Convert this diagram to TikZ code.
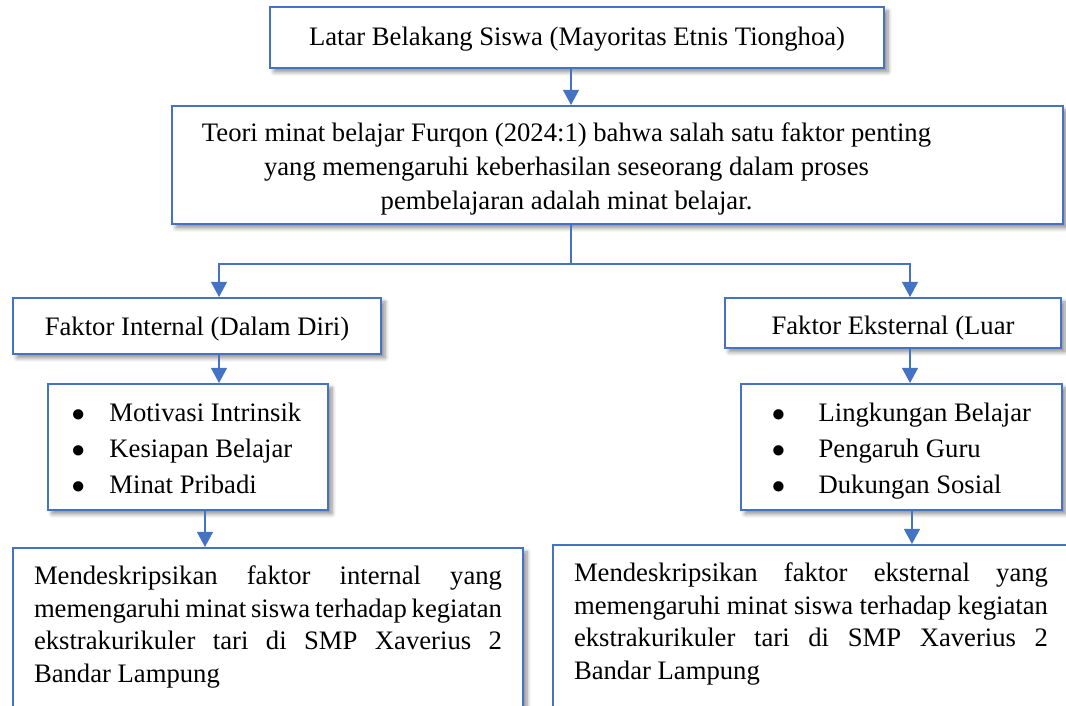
\documentclass[tikz,border=0pt]{standalone}
\usepackage{fontspec}
\setmainfont{Liberation Serif}
\usetikzlibrary{arrows.meta,shadows.blur}
\definecolor{wordblue}{HTML}{4472C4}

\tikzset{
	kotak/.style={draw=wordblue, line width=0.9pt, fill=white, inner sep=0pt,
		blur shadow={shadow xshift=1.8pt, shadow yshift=-1.8pt, shadow blur steps=6, shadow opacity=45},
		font=\fontsize{12}{15.3}\selectfont},
	panah/.style={draw=wordblue, line width=0.6pt, -{Triangle[width=7.2pt,length=6.8pt]}},
	garis/.style={draw=wordblue, line width=0.6pt},
	uraian/.style={kotak, anchor=north west, inner xsep=9.45pt, inner ysep=8pt, align=justify,
		font=\fontsize{12}{14.7}\selectfont}
}
\newcommand{\butir}{$\bullet$}
\newcommand{\turun}[2]{\raisebox{-#1}[\height][\depth]{#2}}

\begin{document}
\begin{tikzpicture}[x=0.45pt,y=0.45pt]
		\useasboundingbox (0,0) rectangle (1066,705);
		\clip (0,0) rectangle (1066,705);
		
		\node[kotak, minimum width=276.3pt, minimum height=27.45pt] (latar) at (577,667.5) {\turun{0.8pt}{Latar Belakang Siswa (Mayoritas Etnis Tionghoa)}};
		\node[kotak, minimum width=400.95pt, minimum height=53.1pt] (teori) at (617.5,540) {\turun{1.8pt}{\begin{tabular}{@{}c@{}}Teori minat belajar Furqon (2024:1) bahwa salah satu faktor penting\\ yang memengaruhi keberhasilan seseorang dalam proses\\ pembelajaran adalah minat belajar.\end{tabular}}\hspace*{45.9pt}};
		
		\node[kotak, minimum width=165.6pt, minimum height=25.2pt] (intern) at (197,379) {\turun{1.3pt}{Faktor Internal (Dalam Diri)}};
		\node[kotak, minimum width=151.2pt, minimum height=22.5pt] (ekstern) at (893,382) {\turun{2.2pt}{Faktor Eksternal (Luar}};
		
		\node[kotak, minimum width=126pt, minimum height=56.7pt, font=\fontsize{12}{16.2}\selectfont] (butirIn) at (188,258) {\turun{1.4pt}{\begin{tabular}{@{}l@{\hspace{11pt}}l@{}}\butir & Motivasi Intrinsik\\ \butir & Kesiapan Belajar\\ \butir & Minat Pribadi\end{tabular}}\hspace*{1.4pt}};
		\node[kotak, minimum width=144.45pt, minimum height=56.7pt, font=\fontsize{12}{16.2}\selectfont] (butirEks) at (901.5,258) {\turun{1.4pt}{\begin{tabular}{@{}l@{\hspace{15pt}}l@{}}\butir & Lingkungan Belajar\\ \butir & Pengaruh Guru\\ \butir & Dukungan Sosial\end{tabular}}};
		
		\node[uraian, text width=210.6pt] (tujuanIn) at (12,158) {Mendeskripsikan faktor internal yang\linebreak memengaruhi minat siswa terhadap kegiatan\linebreak ekstrakurikuler tari di SMP Xaverius 2\linebreak Bandar Lampung\rule[-40pt]{0pt}{0pt}};
		\node[uraian, text width=213.3pt] (tujuanEks) at (552,161) {Mendeskripsikan faktor eksternal yang\linebreak memengaruhi minat siswa terhadap kegiatan\linebreak ekstrakurikuler tari di SMP Xaverius 2\linebreak Bandar Lampung\rule[-40pt]{0pt}{0pt}};
		
		\coordinate (cabang) at (571,441);
		\draw[panah] ([xshift=-2.7pt]latar.south) -- ([xshift=-2.7pt]latar.south |- teori.north);
		\draw[garis] (teori.south -| cabang) -- (cabang);
		\draw[panah] (cabang) -| ([xshift=9.9pt]intern.north);
		\draw[panah] (cabang) -| ([xshift=7.65pt]ekstern.north);
		\draw[panah] ([xshift=9.9pt]intern.south) -- ([xshift=9.9pt]intern.south |- butirIn.north);
		\draw[panah] ([xshift=7.65pt]ekstern.south) -- ([xshift=7.65pt]ekstern.south |- butirEks.north);
		\draw[panah] ([xshift=7.65pt]butirIn.south) -- ([xshift=7.65pt]butirIn.south |- tujuanIn.north);
		\draw[panah] ([xshift=4.7pt]butirEks.south) -- ([xshift=4.7pt]butirEks.south |- tujuanEks.north);
		
\end{tikzpicture}
\end{document}
